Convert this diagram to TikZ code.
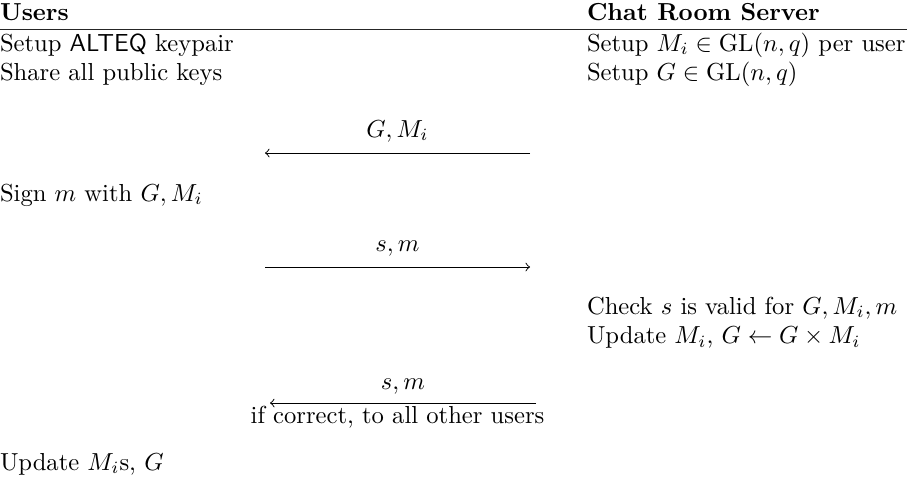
\documentclass[tikz,border=0pt]{standalone}
\usepackage{amsmath}
\begin{document}
\begin{tikzpicture}[x=0.4065pt,y=-0.4065pt,
  txt/.style={anchor=base west,inner sep=0pt,outer sep=0pt},
  lbl/.style={anchor=base,inner sep=0pt,outer sep=0pt},
  msg/.style={line width=0.4pt,->}]
\useasboundingbox (0,0) rectangle (907,482);
% headers
\node[txt] (hu) at (0,20) {\textbf{Users}};
\node[txt] (hs) at (587,20) {\textbf{Chat Room Server}};
\coordinate (rl) at (0,29.5);
\coordinate (rr) at (907,29.5);
\draw[line width=0.4pt,black!85] (rl) -- (rr);
% setup
\node[txt] (u1) at (0,51) {Setup \textsf{ALTEQ} keypair};
\node[txt] (u2) at (0,80.5) {Share all public keys};
\node[txt] (s1) at (587,51) {Setup $M_i \in \mathrm{GL}(n,q)$ per user};
\node[txt] (s2) at (587,80.5) {Setup $G \in \mathrm{GL}(n,q)$};
% message 1
\coordinate (a1r) at (530,153);
\coordinate (a1l) at (265,153);
\draw[msg] (a1r) -- (a1l);
\node[lbl] (l1) at (397.5,137) {$G, M_i$};
% sign
\node[txt] (u3) at (0,201) {Sign $m$ with $G, M_i$};
% message 2
\coordinate (a2l) at (265,267);
\coordinate (a2r) at (530,267);
\draw[msg] (a2l) -- (a2r);
\node[lbl] (l2) at (397.5,251) {$s, m$};
% server checks
\node[txt] (s3) at (587,314) {Check $s$ is valid for $G, M_i, m$};
\node[txt] (s4) at (587,343.5) {Update $M_i$, $G \leftarrow G \times M_i$};
% message 3
\coordinate (a3r) at (536,403);
\coordinate (a3l) at (270,403);
\draw[msg] (a3r) -- (a3l);
\node[lbl] (l3) at (403,389) {$s, m$};
\node[lbl] (l3b) at (397.5,423) {if correct, to all other users};
% final
\node[txt] (u4) at (0,470) {Update $M_i$s, $G$};
\end{tikzpicture}
\end{document}
